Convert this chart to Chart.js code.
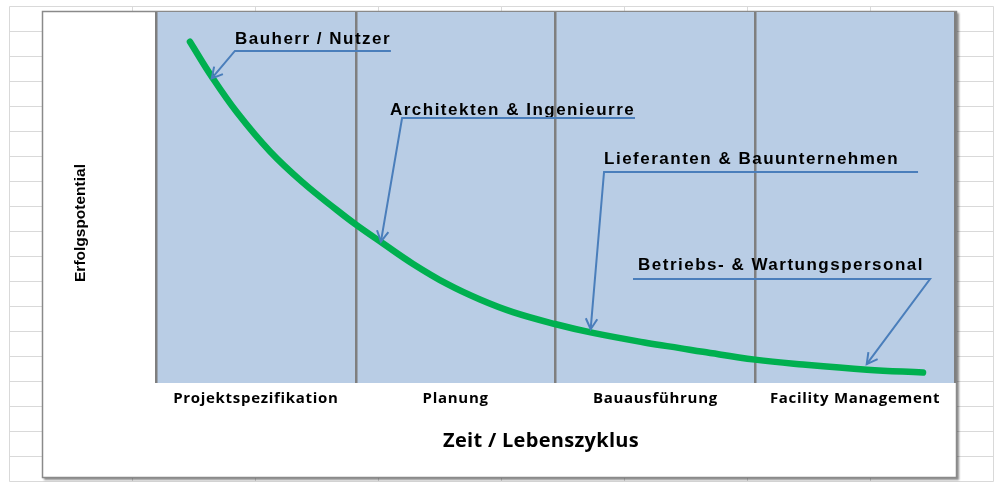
<!DOCTYPE html>
<html><head><meta charset="utf-8">
<script src="https://cdn.jsdelivr.net/npm/chart.js@4.4.1/dist/chart.umd.min.js"></script>
<style>html,body{margin:0;padding:0;background:#fff;overflow:hidden}#wrap{width:1000px;height:489px}</style>
</head><body><div id="wrap"><canvas id="c" width="1000" height="489"></canvas></div>
<script>
// ---- data ----
const phaseLabels = ['Projektspezifikation', 'Planung', 'Bauausführung', 'Facility Management'];
const curveX = [0.170, 0.280, 0.406, 0.571, 0.736, 0.906, 1.001, 1.137, 1.287, 1.457, 1.622, 1.787, 1.997, 2.188, 2.458, 2.623, 2.738, 2.999, 3.239, 3.559, 3.840];
const curveY = [92.0, 82.5, 72.9, 62.4, 54.0, 46.6, 42.7, 37.6, 32.1, 26.7, 22.5, 19.1, 15.9, 13.5, 10.8, 9.4, 8.4, 6.3, 5.0, 3.6, 2.8];
const xTitle = 'Zeit / Lebenszyklus';
const yTitle = 'Erfolgspotential';
const calloutLabels = ['Bauherr / Nutzer', 'Architekten & Ingenieurre', 'Lieferanten & Bauunternehmen', 'Betriebs- & Wartungspersonal'];
const calloutTextX = [0.395, 1.171, 2.243, 2.413];
const calloutTextY = [91.4, 72.2, 59.0, 30.5];
const calloutPathX = [[1.176, 0.395, 0.279], [2.398, 1.232, 1.126], [3.815, 2.243, 2.176], [2.388, 3.875, 3.558]];
const calloutPathY = [[89.5, 89.5, 82.1], [71.4, 71.4, 38.1], [56.9, 56.9, 14.5], [28.0, 28.0, 5.1]];

// ---- styles ----
const PLOT_BG = '#b9cde5';
const CURVE = '#00b050';
const ARROW = '#4a7ebb';

const sheetPlugin = {
  id: 'sheet',
  beforeDraw(chart) {
    const ctx = chart.ctx;
    ctx.save();
    ctx.fillStyle = '#ffffff';
    ctx.fillRect(0, 0, chart.width, chart.height);
    // spreadsheet grid
    ctx.strokeStyle = '#d9d9d9';
    ctx.lineWidth = 1;
    ctx.beginPath();
    for (let y = 6.5; y <= 482; y += 25) { ctx.moveTo(9.5, y); ctx.lineTo(993.5, y); }
    for (let x = 9.5; x <= 994; x += 123) { ctx.moveTo(x, 6.5); ctx.lineTo(x, 481.5); }
    ctx.stroke();
    // chart box with shadow
    ctx.shadowColor = 'rgba(0,0,0,0.45)';
    ctx.shadowOffsetX = 2; ctx.shadowOffsetY = 2; ctx.shadowBlur = 2;
    ctx.fillStyle = '#ffffff';
    ctx.fillRect(42, 11, 915, 467);
    ctx.shadowColor = 'transparent';
    ctx.strokeStyle = '#8a8a8a';
    ctx.lineWidth = 1.5;
    ctx.strokeRect(42.5, 11.5, 914, 466);
    // plot area
    const a = chart.chartArea;
    ctx.fillStyle = PLOT_BG;
    ctx.fillRect(a.left, a.top, a.right - a.left, a.bottom - a.top);
    ctx.restore();
    // slightly spaced tick labels (Excel-like rendering)
    try { ctx.letterSpacing = '0.7px'; } catch (e) {}
  },
  beforeDatasetsDraw(chart) {
    try { chart.ctx.letterSpacing = '0px'; } catch (e) {}
  },
  afterDraw(chart) {
    const ctx = chart.ctx;
    ctx.save();
    ctx.fillStyle = '#000';
    ctx.textAlign = 'center';
    ctx.textBaseline = 'alphabetic';
    ctx.font = 'bold 20px "Open Sans", Lato, sans-serif';
    try { ctx.letterSpacing = '0.3px'; } catch (e) {}
    ctx.fillText(xTitle, 541, 447);
    try { ctx.letterSpacing = '0px'; } catch (e) {}
    ctx.translate(81, 223);
    ctx.rotate(-Math.PI / 2);
    ctx.font = 'bold 15.5px "Liberation Sans", Arial, sans-serif';
    ctx.textBaseline = 'middle';
    ctx.fillText(yTitle, 0, 0);
    ctx.restore();
  }
};

const calloutPlugin = {
  id: 'callouts',
  afterDatasetsDraw(chart) {
    const ctx = chart.ctx, xs = chart.scales.x, ys = chart.scales.y;
    ctx.save();
    ctx.font = 'bold 17px "Liberation Sans", Arial, sans-serif';
    try { ctx.letterSpacing = '1.5px'; } catch (e) {}
    ctx.fillStyle = '#000';
    ctx.textBaseline = 'alphabetic';
    ctx.textAlign = 'left';
    calloutLabels.forEach((t, i) => {
      ctx.fillText(t, xs.getPixelForValue(calloutTextX[i]), ys.getPixelForValue(calloutTextY[i]));
    });
    try { ctx.letterSpacing = '0px'; } catch (e) {}
    ctx.strokeStyle = ARROW;
    ctx.lineWidth = 2;
    ctx.lineJoin = 'miter';
    ctx.lineCap = 'butt';
    calloutPathX.forEach((px, i) => {
      const pts = px.map((x, j) => [xs.getPixelForValue(x), ys.getPixelForValue(calloutPathY[i][j])]);
      ctx.beginPath();
      pts.forEach((p, j) => j ? ctx.lineTo(p[0], p[1]) : ctx.moveTo(p[0], p[1]));
      ctx.stroke();
      const [x1, y1] = pts[pts.length - 2], [x2, y2] = pts[pts.length - 1];
      const ang = Math.atan2(y2 - y1, x2 - x1), L = 12, w = 0.5;
      ctx.beginPath();
      ctx.moveTo(x2 - L * Math.cos(ang - w), y2 - L * Math.sin(ang - w));
      ctx.lineTo(x2, y2);
      ctx.lineTo(x2 - L * Math.cos(ang + w), y2 - L * Math.sin(ang + w));
      ctx.stroke();
    });
    ctx.restore();
  }
};

new Chart(document.getElementById('c'), {
  type: 'line',
  data: {
    datasets: [{
      data: curveX.map((x, i) => ({ x: x, y: curveY[i] })),
      borderColor: CURVE,
      borderWidth: 6.5,
      pointRadius: 0,
      tension: 0.4,
      borderCapStyle: 'round',
      borderJoinStyle: 'round',
      fill: false
    }]
  },
  options: {
    responsive: false,
    animation: false,
    events: [],
    layout: { padding: { left: 156, right: 45, top: 12, bottom: 0 } },
    plugins: { legend: { display: false }, tooltip: { enabled: false } },
    scales: {
      x: {
        type: 'linear', min: 0, max: 4,
        border: { display: false },
        grid: { color: '#7f7f7f', lineWidth: 2.5, drawTicks: false },
        ticks: {
          stepSize: 1, autoSkip: false, maxRotation: 0, minRotation: 0,
          labelOffset: 99.875, padding: 7, color: '#000',
          font: { family: '"Open Sans"', weight: 'bold', size: 15 },
          callback: (v) => phaseLabels[v] !== undefined ? phaseLabels[v] : ''
        },
        afterFit: (s) => { s.height = 106; }
      },
      y: { type: 'linear', min: 0, max: 100, display: false }
    }
  },
  plugins: [sheetPlugin, calloutPlugin]
});
</script>
</body></html>
